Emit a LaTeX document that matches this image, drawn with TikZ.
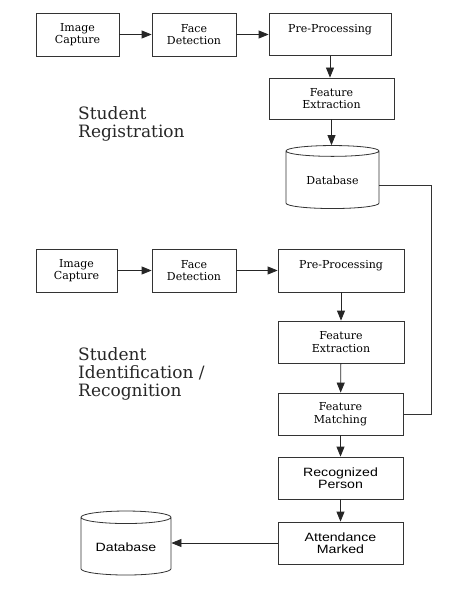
\documentclass[tikz,border=0pt]{standalone}
\usepackage{fontspec}
\setmainfont{DejaVu Serif}
\newfontfamily\sansbox[FakeStretch=1.18]{Liberation Sans}
\usetikzlibrary{arrows.meta,shapes.geometric}
\tikzstyle{box}=[draw=black!80,line width=0.8pt,rectangle,minimum width=125pt,minimum height=42pt,align=center,inner sep=1pt,font=\fontsize{11}{12.5}\selectfont]
\tikzstyle{sbox}=[box,font=\sansbox\fontsize{12}{12}\selectfont]
\tikzstyle{db}=[draw=black!80,line width=0.8pt,cylinder,shape border rotate=90,aspect=0.2,minimum width=93pt,minimum height=63pt,inner sep=1pt,font=\fontsize{11}{12.5}\selectfont]
\tikzstyle{to}=[-{Triangle[length=10pt,width=8pt]},line width=0.8pt,draw=black!85]
\tikzstyle{title}=[anchor=west,align=left,inner sep=0pt,font=\fontsize{17}{18}\selectfont,text=black!85]

\begin{document}
\begin{tikzpicture}[x=1pt,y=-1pt]
\useasboundingbox (0,0) rectangle (449,591);
% registration
\node (ic1) [box,minimum width=83pt,minimum height=43pt] at (77.5,34.5) {Image\\Capture};
\node (fd1) [box,minimum width=84pt,minimum height=43pt] at (194,34.5) {Face\\Detection};
\node (pp1) [box,minimum width=122pt] at (330,34.5) {Pre-Processing\\~};
\node (fe1) [box,minimum height=41pt] at (331.5,98.5) {Feature\\Extraction};
\node (db1) [db] at (332.5,180.5) {Database};
\node (reg) [title] at (78,124) {Student\\Registration};
% identification
\node (ic2) [box,minimum width=81pt,minimum height=43pt] at (76.5,270.5) {Image\\Capture};
\node (fd2) [box,minimum width=84pt,minimum height=43pt] at (194,270.5) {Face\\Detection};
\node (pp2) [box,minimum width=126pt,minimum height=43pt] at (341,270.5) {Pre-Processing\\~};
\node (fe2) [box,minimum width=126pt] at (341,342) {Feature\\Extraction};
\node (fm) [box] at (340.5,414) {Feature\\Matching};
\node (rp) [sbox] at (340.5,478) {Recognized\\Person};
\node (am) [sbox] at (340.5,543) {Attendance\\Marked};
\node (db2) [db,minimum width=90pt,minimum height=64pt,font=\sansbox\fontsize{12}{12}\selectfont] at (126,547) {Database};
\node (idn) [title] at (78,374) {Student\\Identification /\\Recognition};
\coordinate (c1) at (431,185);
\coordinate (c2) at (431,414);
\draw [to] (ic1) -- (fd1);
\draw [to] (fd1) -- (pp1);
\draw [to] (pp1) -- (pp1 |- fe1.north);
\draw [to] (fe1) -- (fe1 |- db1.north);
\draw [to] (ic2) -- (fd2);
\draw [to] (fd2) -- (pp2);
\draw [to] (pp2) -- (fe2);
\draw [to] (fe2) -- (fm);
\draw [to] (fm) -- (rp);
\draw [to] (rp) -- (am);
\draw [to] (am) -- (am -| db2.east);
\draw [draw=black!80,line width=0.8pt] (db1.east |- c1) -- (c1) -- (c2) -- (fm.east);
\end{tikzpicture}
\end{document}
